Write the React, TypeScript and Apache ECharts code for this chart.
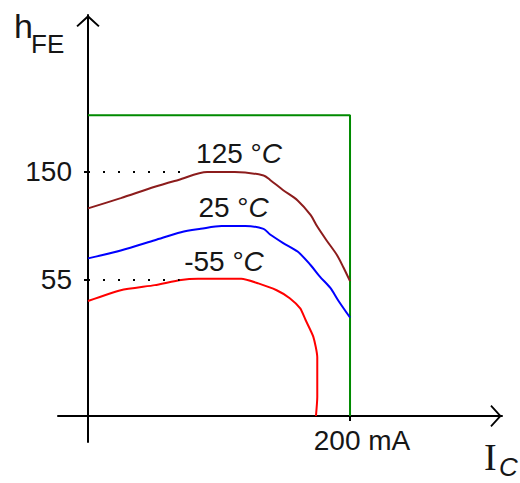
import React, { useEffect, useRef } from "react";
import * as echarts from "echarts";

// ---- axis ranges (schematic: the axes cross below hFE = 0) ----
const X_MIN = -22.9;
const X_MAX = 316;
const Y_MIN = -87.5;
const Y_MAX = 288.1;
const X_AXIS_LEVEL = -64.6; // hFE value where the Ic axis is drawn

// ---- ticks ----
const yTickValues = [55, 150];
const yTickLabels = ["55", "150"];
const xTickValues = [200];
const xTickLabels = ["200 mA"];

// ---- curves: Ic (mA) and hFE ----
const curve125_I = [0, 25, 51, 69, 91, 112, 134, 139, 149, 160, 170, 175, 182, 190, 195, 200];
const curve125_h = [118, 127, 137, 143, 150, 150, 147, 143, 134, 125, 112, 102, 90, 77, 66, 54];

const curve25_I = [0, 25, 51, 71, 86, 102, 120, 134, 139, 149, 160, 170, 177, 185, 191, 200];
const curve25_h = [74, 81, 90, 97, 100, 102.5, 102.5, 100, 95, 87.5, 80, 68, 58, 48, 37, 22];

const curveM55_I = [0, 25, 51, 71, 84, 117, 130, 144, 154, 162, 166, 172, 175, 175, 174];
const curveM55_h = [36.5, 46, 50.5, 55, 56, 56, 52, 46, 39, 30, 20, 5, -13, -48, X_AXIS_LEVEL];

// ---- safe operating box ----
const boxI = [0, 200, 200];
const boxH = [200, 200, X_AXIS_LEVEL];

// ---- dotted guide lines ----
const guideH = [150, 55];
const guideIEnd = [78, 70];

// ---- curve labels ----
const curveNames = ["125 °", "25 °", "-55 °"];
const labelI = [115.3, 111.1, 103.8];
const labelH = [166.3, 119.2, 71.7];

const FONT = "Liberation Sans";
const TEXT = "#161616";

const zip = (a: number[], b: number[]) => a.map((v, i) => [v, b[i]]);

const curveLabel = (idx: number) => ({
  symbol: "circle",
  symbolSize: 0,
  silent: true,
  label: {
    show: true,
    position: "inside",
    color: TEXT,
    fontFamily: FONT,
    fontSize: 28,
    formatter: () => curveNames[idx] + "{i|C}",
    rich: { i: { fontFamily: FONT, fontSize: 28, fontStyle: "italic", color: TEXT } },
  },
  data: [{ coord: [labelI[idx], labelH[idx]] }],
});

const guide = (idx: number) => ({
  silent: true,
  symbol: "none",
  label: { show: false },
  lineStyle: { color: "#000", width: 2, type: [2, 13] },
  data: [[{ coord: [0, guideH[idx]] }, { coord: [guideIEnd[idx], guideH[idx]] }]],
});

const chevron = "path://M0,11 L12,0 L24,11 L22.6,12.4 L12,2.8 L1.4,12.4 Z";

export default function App() {
  const ref = useRef<HTMLDivElement>(null);
  useEffect(() => {
    if (!ref.current) return;
    const chart = echarts.init(ref.current, null, { renderer: "svg" });
    chart.setOption({
      animation: false,
      backgroundColor: "#fff",
      grid: { left: 58, right: 18, top: 15, bottom: 41, containLabel: false },
      xAxis: {
        type: "value",
        min: X_MIN,
        max: X_MAX,
        offset: -26,
        splitLine: { show: false },
        axisLine: {
          onZero: false,
          lineStyle: { color: "#000", width: 2 },
          symbol: ["none", chevron],
          symbolSize: [22, 12],
          symbolOffset: [0, -6],
        },
        axisTick: { customValues: xTickValues, length: 5, lineStyle: { color: "#000", width: 2 } },
        axisLabel: {
          customValues: xTickValues,
          formatter: (v: number) => xTickLabels[xTickValues.indexOf(v)] ?? "",
          color: TEXT,
          fontFamily: FONT,
          fontSize: 28,
          margin: 10,
          padding: [0, 0, 0, 24],
        },
      },
      yAxis: {
        type: "value",
        min: Y_MIN,
        max: Y_MAX,
        offset: -30,
        splitLine: { show: false },
        axisLine: {
          onZero: false,
          lineStyle: { color: "#000", width: 2 },
          symbol: ["none", chevron],
          symbolSize: [24, 12],
          symbolOffset: [0, -6],
        },
        axisTick: { customValues: yTickValues, length: 4, lineStyle: { color: "#000", width: 2 } },
        axisLabel: {
          customValues: yTickValues,
          formatter: (v: number) => yTickLabels[yTickValues.indexOf(v)] ?? "",
          color: TEXT,
          fontFamily: FONT,
          fontSize: 28,
          margin: 16,
        },
      },
      graphic: [
        {
          type: "text",
          x: 14,
          y: 9,
          style: { text: "h", fill: TEXT, fontFamily: FONT, fontSize: 34, lineHeight: 34 },
        },
        {
          type: "text",
          x: 31,
          y: 31,
          style: { text: "FE", fill: TEXT, fontFamily: FONT, fontSize: 26, lineHeight: 26 },
        },
        {
          type: "text",
          x: 484,
          y: 438,
          style: { text: "I", fill: TEXT, fontFamily: "Liberation Serif", fontSize: 38, lineHeight: 38 },
        },
        {
          type: "text",
          x: 499,
          y: 454,
          style: { text: "C", fill: TEXT, fontFamily: FONT, fontStyle: "italic", fontSize: 26, lineHeight: 26 },
        },
      ],
      series: [
        {
          name: "box",
          type: "line",
          data: zip(boxI, boxH),
          showSymbol: false,
          lineStyle: { color: "#008a00", width: 2 },
          silent: true,
        },
        {
          name: "125 °C",
          type: "line",
          data: zip(curve125_I, curve125_h),
          showSymbol: false,
          smooth: 0.3,
          lineStyle: { color: "#8c1c1c", width: 2 },
          markLine: guide(0),
          markPoint: curveLabel(0),
        },
        {
          name: "25 °C",
          type: "line",
          data: zip(curve25_I, curve25_h),
          showSymbol: false,
          smooth: 0.3,
          lineStyle: { color: "#0000ff", width: 2 },
          markPoint: curveLabel(1),
        },
        {
          name: "-55 °C",
          type: "line",
          data: zip(curveM55_I, curveM55_h),
          showSymbol: false,
          smooth: 0.2,
          lineStyle: { color: "#ff0000", width: 2 },
          markLine: guide(1),
          markPoint: curveLabel(2),
        },
      ],
    });
    return () => chart.dispose();
  }, []);
  return <div ref={ref} style={{ width: 520, height: 483, position: "absolute", left: 0, top: 0 }} />;
}
